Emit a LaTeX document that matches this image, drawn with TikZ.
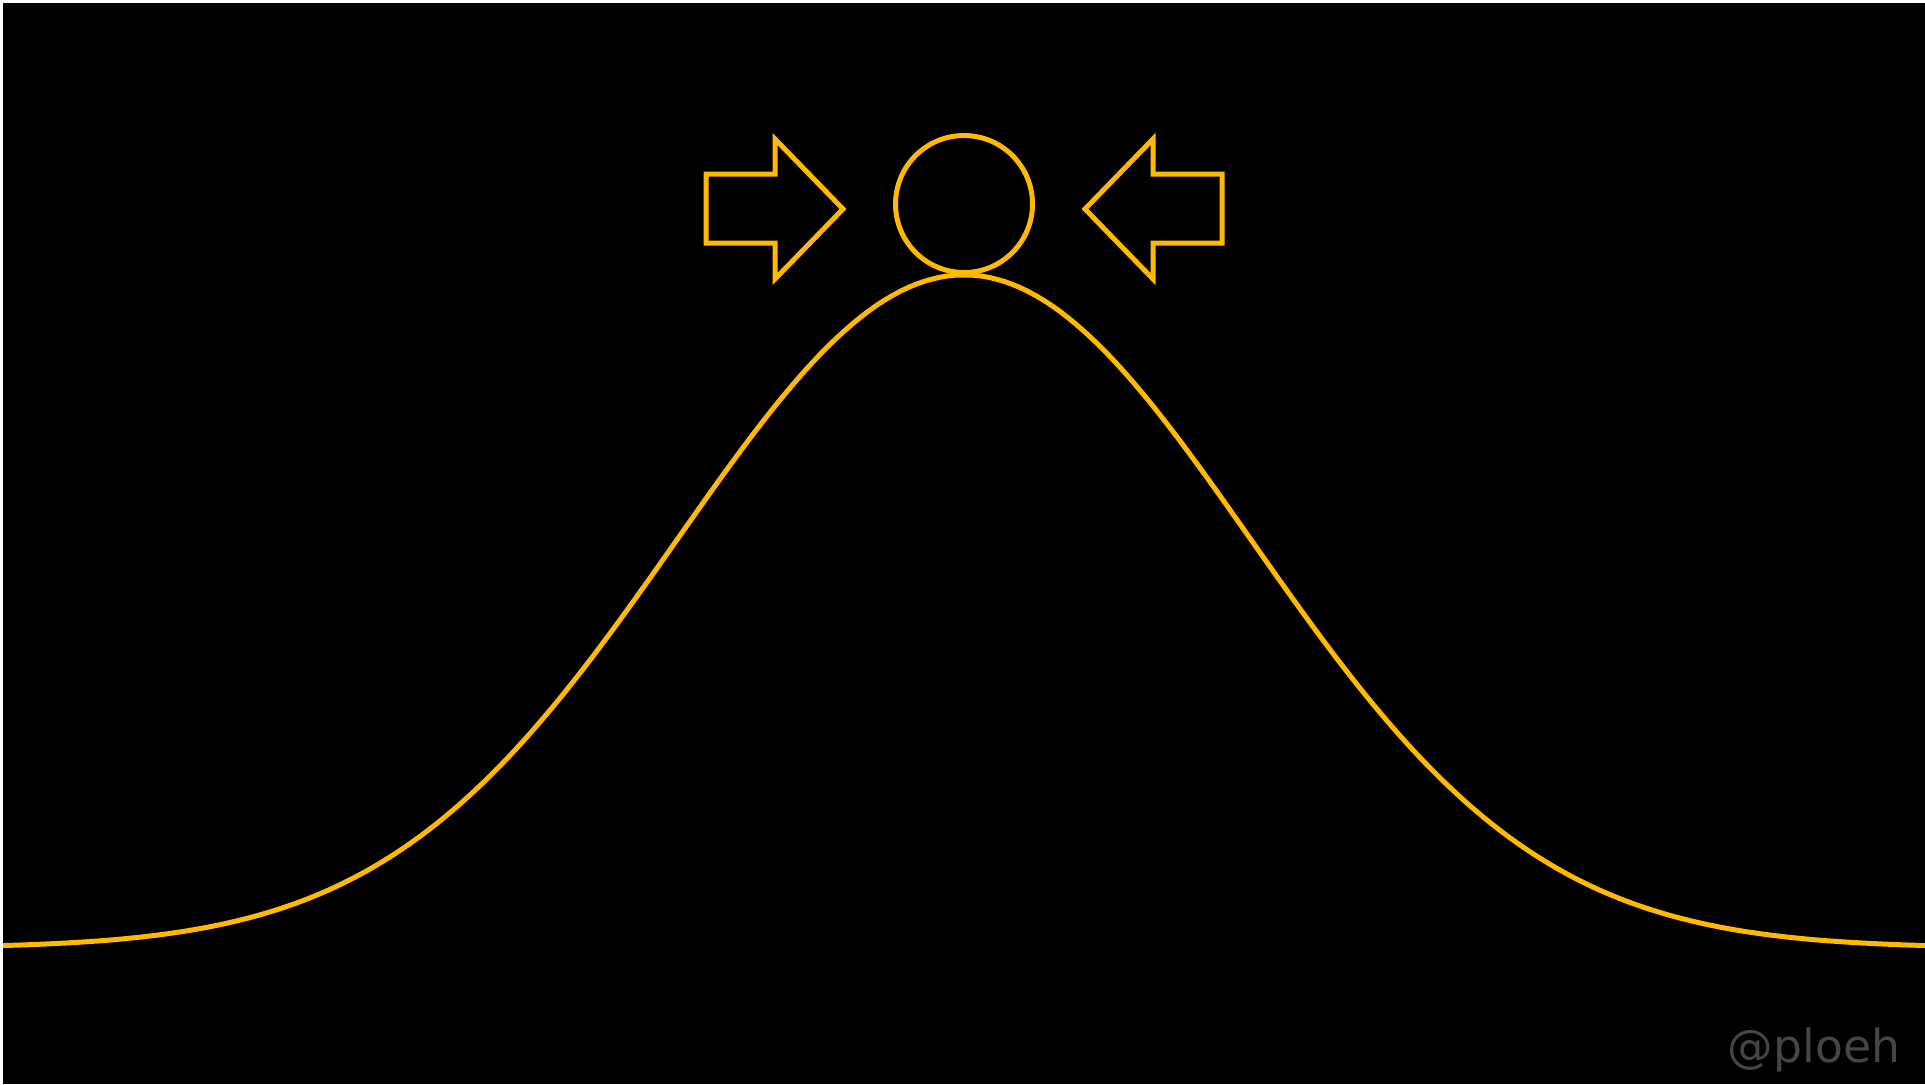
\documentclass[tikz,border=0pt]{standalone}
\usepackage{fontspec}
\newfontfamily\markfont{DejaVu Sans}
\usetikzlibrary{positioning}
\definecolor{cGold}{HTML}{FFB900}
\definecolor{cMark}{HTML}{464646}
\tikzset{
  sceneA/.style={
    every node/.style={inner sep=0pt, outer sep=0pt},
    line join=miter, line width=2.5pt,
  },
  outline/.style={draw=cGold, line width=2.5pt},
  bellCurve/.style={draw=cGold, line width=2.5pt, line join=round},
  handle/.style={font=\markfont\fontsize{22.8pt}{24pt}\selectfont, text=cMark},
}

\begin{document}
\begin{tikzpicture}[sceneA, x=0.5pt, y=-0.5pt]

% ============================================================
% Canvas: thin white margin top/left, black field.
% Units are image pixels, y grows downwards.
% ============================================================
\useasboundingbox (0,0) rectangle (1925,1084);
\fill[white] (0,0) rectangle (1925,1084);
\fill[black] (3,3) rectangle (1925,1084);

\def\xC{964}

% Bell curve -- peak under the ball, tails run off both edges
\begin{scope}
\clip (3,3) rectangle (1925,1084);
\draw[bellCurve] plot[domain=3:1925, samples=241]
  (\x, {948-673*exp(-0.5*((\x-\xC)/287)^2)});
\end{scope}

% Ball resting on the top
\draw[outline] (\xC, 204) circle[radius=34.25pt];

% ============================================================
% Block arrows pushing in from both sides
% ============================================================
% left one, pointing right
\draw[outline] (\xC-258, 174) -- (\xC-189, 174) -- (\xC-189, 139)
  -- (\xC-121, 209) -- (\xC-189, 279) -- (\xC-189, 243)
  -- (\xC-258, 243) -- cycle;
% right one, pointing left
\draw[outline] (\xC+258, 174) -- (\xC+189, 174) -- (\xC+189, 139)
  -- (\xC+121, 209) -- (\xC+189, 279) -- (\xC+189, 243)
  -- (\xC+258, 243) -- cycle;

% Handle in the corner
\node[handle, anchor=base east] (tag) at (1900, 1062) {@ploeh};

\end{tikzpicture}
\end{document}
